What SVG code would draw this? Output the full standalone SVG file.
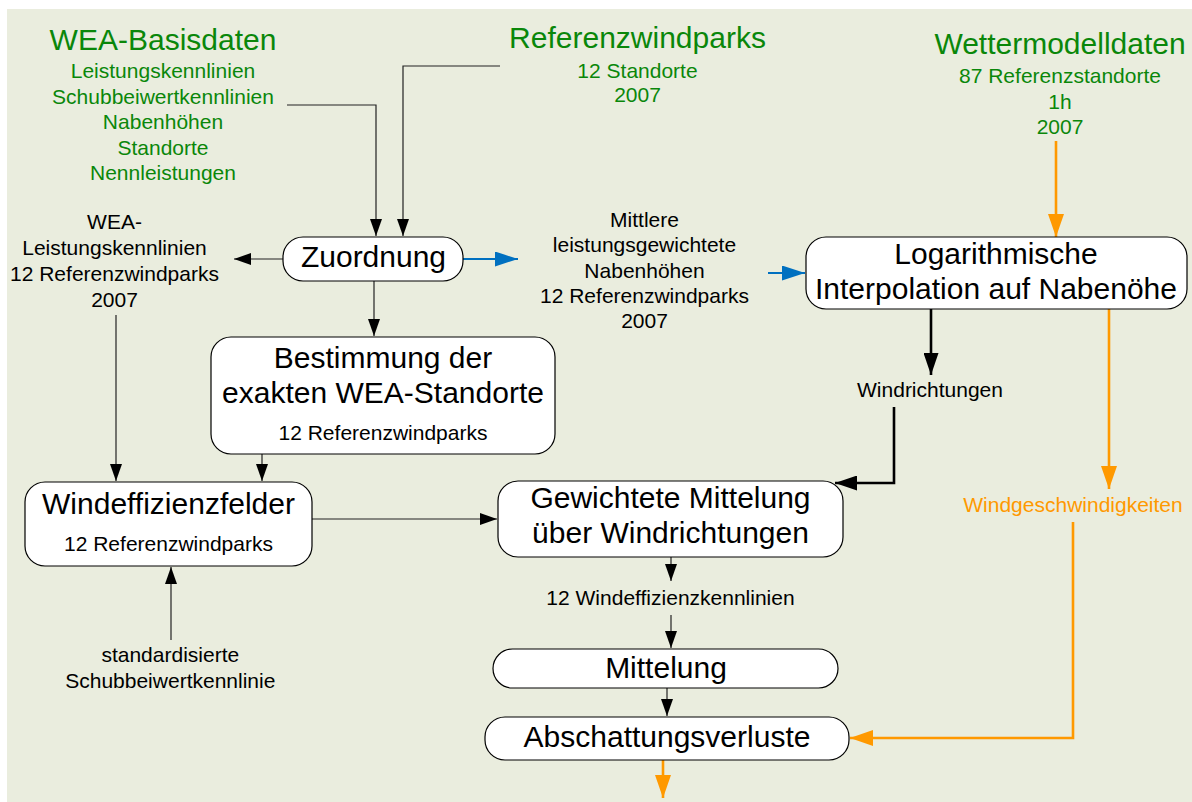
<svg xmlns="http://www.w3.org/2000/svg" width="1192" height="802" viewBox="0 0 1192 802">
<style>
text{font-family:"Liberation Sans",Arial,sans-serif;text-anchor:middle;fill:#000}
.big{font-size:30px}
.sm{font-size:21px}
.green{fill:#0A870A}
.orange{fill:#FF9900}
.box{fill:#fff;stroke:#000;stroke-width:1.2}
.thin{fill:none;stroke:#222;stroke-width:1.2}
.thick{fill:none;stroke:#000;stroke-width:2.6}
.or{fill:none;stroke:#FF9900;stroke-width:2.6}
.bl{fill:none;stroke:#0070C0;stroke-width:2.2}
</style>
<defs>
<marker id="ah" viewBox="0 0 17 12" markerUnits="userSpaceOnUse" markerWidth="17" markerHeight="12" refX="17" refY="6" orient="auto"><path d="M0,0 L17,6 L0,12 z" fill="#000"/></marker>
<marker id="ahT" viewBox="0 0 22 15" markerUnits="userSpaceOnUse" markerWidth="22" markerHeight="15" refX="22" refY="7.5" orient="auto"><path d="M0,0 L22,7.5 L0,15 z" fill="#000"/></marker>
<marker id="ahO" viewBox="0 0 23 16" markerUnits="userSpaceOnUse" markerWidth="23" markerHeight="16" refX="23" refY="8" orient="auto"><path d="M0,0 L23,8 L0,16 z" fill="#FF9900"/></marker>
<marker id="ahB" viewBox="0 0 23 15" markerUnits="userSpaceOnUse" markerWidth="23" markerHeight="15" refX="23" refY="7.5" orient="auto"><path d="M0,0 L23,7.5 L0,15 z" fill="#0070C0"/></marker>
</defs>
<rect x="7" y="9" width="1185" height="793" fill="#EAEDDE"/>

<g id="connectors">
<polyline class="thin" points="287,105 376,105 376,236" marker-end="url(#ah)"/>
<polyline class="thin" points="500,66 403,66 403,236" marker-end="url(#ah)"/>
<line class="thin" x1="283" y1="259" x2="234" y2="259" marker-end="url(#ah)"/>
<line class="bl" x1="463" y1="259" x2="518" y2="259" marker-end="url(#ahB)"/>
<line class="bl" x1="768" y1="273" x2="805" y2="273" marker-end="url(#ahB)"/>
<line class="or" x1="1056" y1="141" x2="1056" y2="237" marker-end="url(#ahO)"/>
<line class="thin" x1="374" y1="281" x2="374" y2="336" marker-end="url(#ah)"/>
<line class="thin" x1="116" y1="315" x2="116" y2="481" marker-end="url(#ah)"/>
<line class="thin" x1="262" y1="454" x2="262" y2="481" marker-end="url(#ah)"/>
<line class="thin" x1="312" y1="519" x2="497" y2="519" marker-end="url(#ah)"/>
<line class="thin" x1="171" y1="640" x2="171" y2="567" marker-end="url(#ah)"/>
<line class="thick" x1="931" y1="309" x2="931" y2="375" marker-end="url(#ahT)"/>
<polyline class="thick" points="894,407 894,483 835,483" marker-end="url(#ahT)"/>
<line class="or" x1="1109" y1="309" x2="1109" y2="489" marker-end="url(#ahO)"/>
<polyline class="or" points="1073,522 1073,738 850,738" marker-end="url(#ahO)"/>
<line class="thin" x1="671" y1="557" x2="671" y2="581" marker-end="url(#ah)"/>
<line class="thin" x1="671" y1="615" x2="671" y2="648" marker-end="url(#ah)"/>
<line class="thin" x1="667" y1="688" x2="667" y2="716" marker-end="url(#ah)"/>
<line class="or" x1="663" y1="760" x2="663" y2="798" marker-end="url(#ahO)"/>
</g>

<g id="wea-basisdaten">
<text class="big green" x="163" y="50">WEA-Basisdaten</text>
<text class="sm green" x="163" y="78">Leistungskennlinien</text>
<text class="sm green" x="163" y="103.5">Schubbeiwertkennlinien</text>
<text class="sm green" x="163" y="129">Nabenhöhen</text>
<text class="sm green" x="163" y="154.5">Standorte</text>
<text class="sm green" x="163" y="180">Nennleistungen</text>
</g>

<g id="referenzwindparks">
<text class="big green" x="637.5" y="48">Referenzwindparks</text>
<text class="sm green" x="637.5" y="77.7">12 Standorte</text>
<text class="sm green" x="637.5" y="102">2007</text>
</g>

<g id="wettermodelldaten">
<text class="big green" x="1060" y="54">Wettermodelldaten</text>
<text class="sm green" x="1060" y="82.7">87 Referenzstandorte</text>
<text class="sm green" x="1060" y="109">1h</text>
<text class="sm green" x="1060" y="134">2007</text>
</g>

<g id="wea-leistungskennlinien">
<text class="sm" x="114.5" y="229.3">WEA-</text>
<text class="sm" x="114.5" y="255">Leistungskennlinien</text>
<text class="sm" x="114.5" y="280.7">12 Referenzwindparks</text>
<text class="sm" x="114.5" y="306.7">2007</text>
</g>

<g id="zuordnung">
<rect class="box" x="283" y="237" width="180" height="44" rx="20"/>
<text class="big" x="373.5" y="267.3">Zuordnung</text>
</g>

<g id="nabenhoehen">
<text class="sm" x="644.5" y="226.7">Mittlere</text>
<text class="sm" x="644.5" y="251.7">leistungsgewichtete</text>
<text class="sm" x="644.5" y="277.7">Nabenhöhen</text>
<text class="sm" x="644.5" y="302.7">12 Referenzwindparks</text>
<text class="sm" x="644.5" y="328.3">2007</text>
</g>

<g id="logarithmische-interpolation">
<rect class="box" x="806" y="237" width="381" height="72" rx="20"/>
<text class="big" x="996" y="264">Logarithmische</text>
<text class="big" x="996" y="299.3">Interpolation auf Nabenöhe</text>
</g>

<g id="bestimmung">
<rect class="box" x="211" y="337" width="344" height="117" rx="20"/>
<text class="big" x="383" y="368.3">Bestimmung der</text>
<text class="big" x="383" y="403.3">exakten WEA-Standorte</text>
<text class="sm" x="383" y="440">12 Referenzwindparks</text>
</g>

<g id="windrichtungen">
<text class="sm" x="930" y="397.3">Windrichtungen</text>
</g>

<g id="windgeschwindigkeiten">
<text class="sm orange" x="1073" y="512.2">Windgeschwindigkeiten</text>
</g>

<g id="windeffizienzfelder">
<rect class="box" x="25" y="482" width="287" height="84" rx="20"/>
<text class="big" x="168.5" y="514.3">Windeffizienzfelder</text>
<text class="sm" x="168.5" y="550.7">12 Referenzwindparks</text>
</g>

<g id="schubbeiwertkennlinie">
<text class="sm" x="170.3" y="661.7">standardisierte</text>
<text class="sm" x="170.3" y="687.7">Schubbeiwertkennlinie</text>
</g>

<g id="gewichtete-mittelung">
<rect class="box" x="498" y="481" width="345" height="76" rx="20"/>
<text class="big" x="670.5" y="508.3">Gewichtete Mittelung</text>
<text class="big" x="670.5" y="543.3">über Windrichtungen</text>
</g>

<g id="windeffizienzkennlinien">
<text class="sm" x="670.5" y="605">12 Windeffizienzkennlinien</text>
</g>

<g id="mittelung">
<rect class="box" x="493" y="649" width="345" height="39" rx="19.5"/>
<text class="big" x="666" y="678.3">Mittelung</text>
</g>

<g id="abschattungsverluste">
<rect class="box" x="485" y="717" width="364" height="43" rx="20"/>
<text class="big" x="667" y="746.7">Abschattungsverluste</text>
</g>
</svg>
